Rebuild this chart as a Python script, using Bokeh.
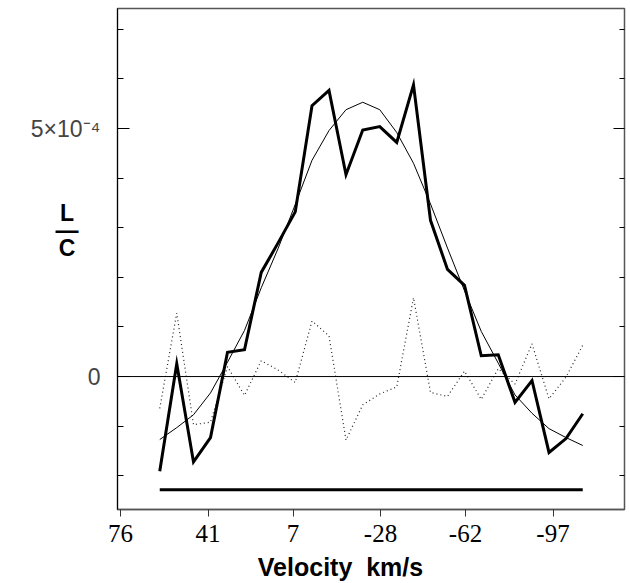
from bokeh.plotting import figure
from bokeh.models import Range1d, FixedTicker, LinearAxis, Label, Span
from bokeh.embed import file_html
from bokeh.resources import INLINE

# Velocity of each channel (km/s)
velocity = [60.3, 53.5, 46.8, 40.0, 33.2, 26.4, 19.7, 12.9, 6.1, -0.6, -7.4,
            -14.2, -20.9, -27.7, -34.5, -41.2, -48.0, -54.8, -61.6, -68.3,
            -75.1, -81.8, -88.6, -95.4, -102.2, -108.9]
# Line-to-continuum ratio, in units of 1e-4
observed = [-1.91, 0.26, -1.72, -1.23, 0.49, 0.54, 2.10, 2.70, 3.32, 5.46, 5.77,
            4.07, 4.97, 5.04, 4.72, 5.88, 3.15, 2.16, 1.84, 0.42, 0.44, -0.52,
            -0.08, -1.53, -1.25, -0.75]
fit = [-1.27, -1.03, -0.77, -0.33, 0.29, 0.93, 1.79, 2.59, 3.47, 4.36, 4.96,
       5.38, 5.53, 5.38, 4.92, 4.30, 3.48, 2.59, 1.73, 0.91, 0.27, -0.37,
       -0.74, -1.05, -1.23, -1.39]
residual = [-0.64, 1.28, -0.97, -0.92, 0.20, -0.38, 0.32, 0.13, -0.12, 1.12, 0.82,
            -1.28, -0.57, -0.35, -0.21, 1.59, -0.32, -0.40, 0.11, -0.46, 0.16,
            -0.15, 0.66, -0.45, -0.01, 0.63]
window_level = -2.28
window_start = 60.3
window_end = -108.9

x_ticks = [76, 41, 7, -28, -62, -97]
x_tick_labels = ["76", "41", "7", "-28", "-62", "-97"]
y_major = [0, 5]
y_major_labels = ["0", "5×10⁻⁴"]
y_minor = [-2, -1, 1, 2, 3, 4, 6, 7]

p = figure(width=630, height=583, output_backend="svg", toolbar_location=None,
           x_range=Range1d(77.2, -125.6), y_range=Range1d(-2.68, 7.42),
           min_border_left=117, min_border_right=6, min_border_top=8,
           min_border_bottom=74, x_axis_location="below", y_axis_location="left")
p.background_fill_color = "white"
p.border_fill_color = "white"
p.grid.visible = False
p.outline_line_color = "#555555"
p.outline_line_width = 1.5

# x axis
xa = p.xaxis[0]
xa.ticker = FixedTicker(ticks=x_ticks, minor_ticks=[])
xa.major_label_overrides = dict(zip(x_ticks, x_tick_labels))
xa.major_tick_in = 0
xa.major_tick_out = 7
xa.minor_tick_in = 0
xa.minor_tick_out = 0
xa.axis_line_color = "#555555"
xa.axis_line_width = 1.5
xa.major_tick_line_color = "#333333"
xa.major_label_text_font = "Liberation Serif"
xa.major_label_text_font_size = "25px"
xa.major_label_text_color = "black"
xa.major_label_standoff = 8

# left y axis
ya = p.yaxis[0]
ya.ticker = FixedTicker(ticks=y_major, minor_ticks=y_minor)
ya.major_tick_in = 12
ya.major_tick_out = 0
ya.minor_tick_in = 6
ya.minor_tick_out = 0
ya.axis_line_color = "black"
ya.major_label_overrides = dict(zip(y_major, y_major_labels))
ya.major_label_text_font = "Liberation Sans"
ya.major_label_text_font_size = "23px"
ya.major_label_text_color = "#444444"
ya.major_label_standoff = 17

# right y axis (ticks only)
ra = LinearAxis(ticker=FixedTicker(ticks=y_major, minor_ticks=y_minor))
ra.major_tick_in = 11
ra.major_tick_out = 0
ra.minor_tick_in = 5
ra.minor_tick_out = 0
ra.axis_line_color = "#555555"
ra.major_label_overrides = {0: "", 5: ""}
ra.major_label_standoff = 0
p.add_layout(ra, "right")

p.add_layout(Span(location=0, dimension="width", line_color="black", line_width=1))

p.line(velocity, residual, line_color="#222222", line_width=1.2, line_dash="1 3")
p.line(velocity, fit, line_color="black", line_width=1)
p.line(velocity, observed, line_color="black", line_width=3, line_join="miter")
p.segment(x0=[window_start], y0=[window_level], x1=[window_end], y1=[window_level],
          line_color="black", line_width=3)

# y axis label L / C, stacked as a fraction
p.add_layout(Label(x=97.4, y=2.954, text="L\n—\nC", text_align="center",
                   text_baseline="middle", text_font="Liberation Sans",
                   text_font_style="bold", text_font_size="23px",
                   text_line_height=0.674, text_color="black"), "left")

# x axis label
p.add_layout(Label(x=-12, y=-3.83, text="Velocity\u00a0 km/s", text_align="center",
                   text_baseline="alphabetic", text_font="Liberation Sans",
                   text_font_style="bold", text_font_size="25px",
                   text_color="black"), "below")

open("out.html", "w").write(file_html(p, INLINE))
